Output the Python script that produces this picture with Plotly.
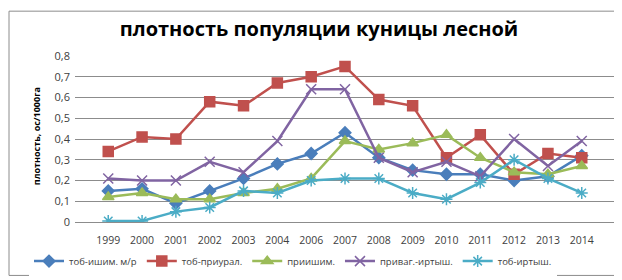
import plotly.graph_objects as go

years = ["1999", "2000", "2001", "2002", "2003", "2004", "2006", "2007",
         "2008", "2009", "2010", "2011", "2012", "2013", "2014"]
tob_ishim = [0.15, 0.16, 0.09, 0.15, 0.21, 0.28, 0.33, 0.43, 0.31, 0.25, 0.23, 0.23, 0.20, 0.22, 0.32]
tob_priural = [0.34, 0.41, 0.40, 0.58, 0.56, 0.67, 0.70, 0.75, 0.59, 0.56, 0.31, 0.42, 0.23, 0.33, 0.31]
priishim = [0.12, 0.14, 0.11, 0.11, 0.14, 0.16, 0.21, 0.39, 0.35, 0.38, 0.42, 0.31, 0.24, 0.23, 0.27]
privag_irtysh = [0.21, 0.20, 0.20, 0.29, 0.24, 0.39, 0.64, 0.64, 0.31, 0.24, 0.29, 0.22, 0.40, 0.27, 0.39]
tob_irtysh = [0.005, 0.005, 0.05, 0.07, 0.15, 0.14, 0.20, 0.21, 0.21, 0.14, 0.11, 0.19, 0.30, 0.21, 0.14]
y_ticks = [0, 0.1, 0.2, 0.3, 0.4, 0.5, 0.6, 0.7, 0.8]
y_tick_labels = ["0", "0,1", "0,2", "0,3", "0,4", "0,5", "0,6", "0,7", "0,8"]

series = [
    ("тоб-ишим. м/р", tob_ishim, "#4A7EBB", "diamond", 9),
    ("тоб-приурал.", tob_priural, "#C0504D", "square", 10),
    ("приишим.", priishim, "#9BBB59", "triangle-up", 10),
    ("приваг.-иртыш.", privag_irtysh, "#8064A2", "x-thin-open", 10),
    ("тоб-иртыш.", tob_irtysh, "#4BACC6", "asterisk-open", 10),
]

fig = go.Figure()
for name, vals, col, sym, sz in series:
    fig.add_trace(go.Scatter(
        x=years, y=vals, name=name, mode="lines+markers",
        line=dict(color=col, width=2.5),
        marker=dict(symbol=sym, size=sz, color=col,
                    line=dict(color=col, width=1.5)),
    ))

L, R, T, B = 67, 15, 48, 58
W, H = 622, 280
pw, ph = W - L - R, H - T - B

def px_x(p):
    return (p - L) / pw

def px_y(p):
    return (H - B - p) / ph

fig.update_layout(
    width=W, height=H,
    margin=dict(l=L, r=R, t=T, b=B),
    paper_bgcolor="white", plot_bgcolor="white",
    font=dict(family="Open Sans, Liberation Sans, sans-serif", size=10, color="#404040"),
    title=dict(text="<b>плотность популяции куницы лесной</b>",
               x=0.5, xanchor="center", y=1 - 21 / H, yanchor="middle",
               font=dict(size=20, color="#000000")),
    showlegend=True,
    legend=dict(orientation="h", x=px_x(285), xanchor="center",
                y=px_y(263), yanchor="middle",
                font=dict(size=9.5, color="#404040"),
                itemwidth=30, tracegroupgap=0),
    xaxis=dict(type="category", showgrid=False, showline=False,
               ticks="outside", ticklen=8, tickcolor="rgba(0,0,0,0)",
               tickfont=dict(size=10.5, color="#404040")),
    yaxis=dict(range=[0, 0.8], tickvals=y_ticks, ticktext=y_tick_labels,
               showgrid=True, gridcolor="#8C8C8C", gridwidth=1,
               zeroline=True, zerolinecolor="#8C8C8C", zerolinewidth=1,
               showline=False, ticks="", ticklen=0, ticklabelstandoff=4,
               tickfont=dict(size=11, color="#404040")),
    annotations=[dict(text="<b>плотность, ос/1000га</b>", xref="paper", yref="paper",
                      x=px_x(28), y=px_y(132), xanchor="center", yanchor="middle",
                      textangle=-90, showarrow=False,
                      font=dict(size=9, color="#000000"))],
)

fig.add_shape(type="rect", xref="paper", yref="paper",
              x0=px_x(1), x1=px_x(W - 2), y0=px_y(H - 2), y1=px_y(1),
              line=dict(color="#8C8C8C", width=1), layer="below")

fig.write_html("out.html")
